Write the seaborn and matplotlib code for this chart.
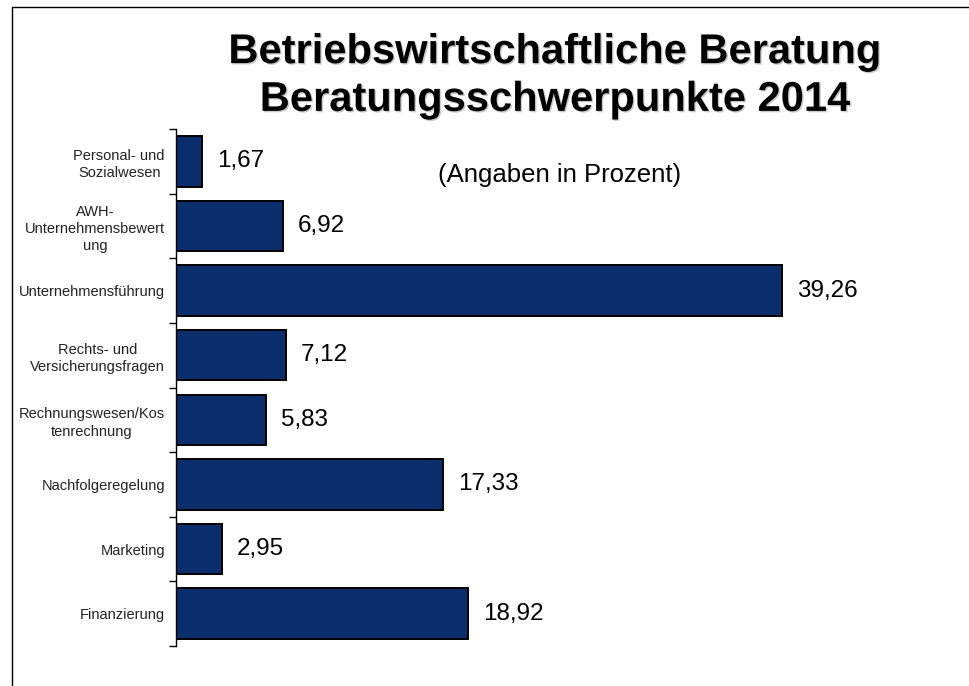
import matplotlib
matplotlib.use("Agg")
import matplotlib.pyplot as plt
import matplotlib.patheffects as pe
import seaborn as sns
import pandas as pd
import numpy as np

categories = [
    "Personal- und\nSozialwesen",
    "AWH-\nUnternehmensbewert\nung",
    "Unternehmensführung",
    "Rechts- und\nVersicherungsfragen",
    "Rechnungswesen/Kos\ntenrechnung",
    "Nachfolgeregelung",
    "Marketing",
    "Finanzierung",
]
values = [1.67, 6.92, 39.26, 7.12, 5.83, 17.33, 2.95, 18.92]
value_labels = ["1,67", "6,92", "39,26", "7,12", "5,83", "17,33", "2,95", "18,92"]

title_lines = "Betriebswirtschaftliche Beratung\nBeratungsschwerpunkte 2014"
subtitle = "(Angaben in Prozent)"

sns.set_style("white")
plt.rcParams["font.family"] = ["Liberation Sans", "DejaVu Sans"]
plt.rcParams["text.color"] = "black"

W, H = 970, 686
fig = plt.figure(figsize=(W / 100, H / 100), dpi=100)
fig.patch.set_facecolor("white")

ax_left, ax_right = 176, 870
ax_top, ax_bot = 129, 646
ax = fig.add_axes([ax_left / W, 1 - ax_bot / H, (ax_right - ax_left) / W, (ax_bot - ax_top) / H])

df = pd.DataFrame({"cat": categories, "val": values})
sns.barplot(data=df, y="cat", x="val", orient="h", color="#0a2d6b",
            saturation=1, width=0.78, edgecolor="black", linewidth=1.4, ax=ax)

px_per_unit = 606 / 39.26
ax.set_xlim(0, (ax_right - ax_left) / px_per_unit)
ax.set_ylim(len(categories) - 0.5, -0.5)

for i, (v, lab) in enumerate(zip(values, value_labels)):
    ax.text(v + 15 / px_per_unit, i, lab, va="center", ha="left", fontsize=17.5, color="black")

for s in ["top", "right", "bottom"]:
    ax.spines[s].set_visible(False)
ax.spines["left"].set_color("black")
ax.spines["left"].set_linewidth(1.0)
ax.set_xticks([])
ax.set_xlabel("")
ax.set_ylabel("")
ax.set_yticks(range(len(categories)))
ax.set_yticklabels(categories, fontsize=10.5, color="#222222", multialignment="center",
                   linespacing=1.3)
ax.tick_params(axis="y", which="major", length=0, pad=8)
ax.set_yticks(np.arange(-0.5, len(categories), 1.0), minor=True)
ax.tick_params(axis="y", which="minor", length=5, width=1, color="black", left=True)

fig.text(555 / W, 1 - 76 / H, title_lines, ha="center", va="center", fontsize=30,
         fontweight="bold", linespacing=1.25, color="black",
         path_effects=[pe.withSimplePatchShadow(offset=(1.0, -1.0), shadow_rgbFace="#999999", alpha=0.5)])
fig.text(560 / W, 1 - 175 / H, subtitle, ha="center", va="center", fontsize=18.5, color="black")

fig.add_artist(plt.Line2D([12 / W, 12 / W], [0, 1 - 7 / H], transform=fig.transFigure, color="black", lw=1))
fig.add_artist(plt.Line2D([12 / W, 1], [1 - 7 / H, 1 - 7 / H], transform=fig.transFigure, color="black", lw=1))

fig.savefig("out.png", dpi=100)
